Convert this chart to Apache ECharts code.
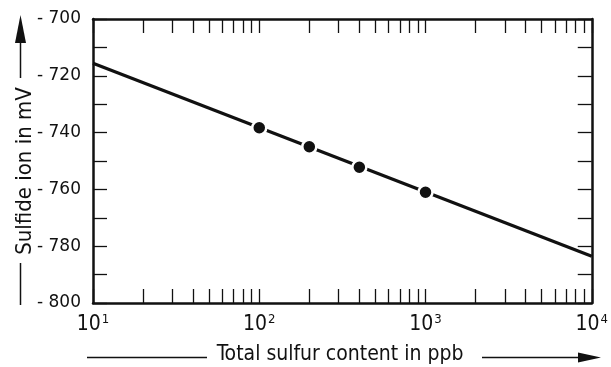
<!DOCTYPE html>
<html>
<head>
<meta charset="utf-8">
<script src="https://cdn.jsdelivr.net/npm/echarts@6/dist/echarts.min.js"></script>
<style>
  html, body { margin: 0; padding: 0; background: #fff; }
  #chart { width: 611px; height: 367px; }
</style>
</head>
<body>
<div id="chart"></div>
<script>
// Calibration line: sulfide ion potential vs. total sulfur content (log scale)
const lineX = [10, 10000];
const lineY = [-715.6, -783.5];

// Measured calibration points
const pointX = [100, 200, 400, 1000];
const pointY = [-738.3, -745.0, -752.2, -761.0];

// Axis ticks and labels
const xDecades = [10, 100, 1000, 10000];
const xExponents = ['1', '2', '3', '4'];
const yMin = -800, yMax = -700, yStep = 10, yLabelStep = 20;

// every k·10^n tick between the first and last decade
const xTicks = [];
for (let d = 0; d < xDecades.length - 1; d++) {
  for (let k = 1; k < 10; k++) xTicks.push(xDecades[d] * k);
}
xTicks.push(xDecades[xDecades.length - 1]);

const ink = '#111';
const narrow = '"Liberation Sans Narrow", "DejaVu Sans Condensed", sans-serif';
const plain = '"DejaVu Sans", sans-serif';

const chart = echarts.init(document.getElementById('chart'));

const tickStyle = { show: true, inside: true, length: 14, lineStyle: { color: ink, width: 1.3 } };
const lineStyleAxis = { show: true, lineStyle: { color: ink, width: 2.5 } };

chart.setOption({
  backgroundColor: '#fff',
  animation: false,
  grid: { left: 93, right: 12, top: 19, bottom: 64 },
  xAxis: [
    {
      type: 'log', logBase: 10, min: 10, max: 10000, position: 'bottom',
      axisLine: lineStyleAxis,
      axisTick: Object.assign({ customValues: xTicks }, tickStyle),
      splitLine: { show: false },
      axisLabel: {
        customValues: xDecades,
        margin: 10,
        formatter: function (v) {
          const i = xDecades.indexOf(v);
          return '{b|10}{s|' + (i >= 0 ? xExponents[i] : '') + '}';
        },
        rich: {
          b: { fontFamily: narrow, fontSize: 21, color: ink },
          s: { fontFamily: narrow, fontSize: 13, color: ink, verticalAlign: 'top', padding: [0, 0, 10, 1] }
        }
      }
    },
    {
      type: 'log', logBase: 10, min: 10, max: 10000, position: 'top',
      axisLine: lineStyleAxis,
      axisTick: Object.assign({ customValues: xTicks }, tickStyle),
      axisLabel: { show: false },
      splitLine: { show: false }
    }
  ],
  yAxis: [
    {
      type: 'value', min: yMin, max: yMax, interval: yStep, position: 'left',
      axisLine: lineStyleAxis,
      axisTick: tickStyle,
      splitLine: { show: false },
      axisLabel: {
        margin: 12,
        color: ink,
        rich: { n: { fontFamily: plain, fontSize: 17, color: ink } },
        formatter: function (v) {
          return (v % yLabelStep === 0) ? '{n|- ' + Math.abs(v) + '}' : '';
        }
      }
    },
    {
      type: 'value', min: yMin, max: yMax, interval: yStep, position: 'right',
      axisLine: lineStyleAxis,
      axisTick: tickStyle,
      axisLabel: { show: false },
      splitLine: { show: false }
    }
  ],
  series: [
    {
      type: 'line',
      data: lineX.map((x, i) => [x, lineY[i]]),
      showSymbol: false,
      lineStyle: { color: ink, width: 3.2 },
      z: 2
    },
    {
      type: 'scatter',
      data: pointX.map((x, i) => [x, pointY[i]]),
      symbol: 'circle',
      symbolSize: 14,
      itemStyle: { color: ink, opacity: 1, borderColor: '#fff', borderWidth: 2.5 },
      z: 3
    }
  ],
  graphic: [
    // vertical axis title with leader line and arrow
    { type: 'line', shape: { x1: 20.5, y1: 263, x2: 20.5, y2: 305 }, style: { stroke: ink, lineWidth: 1.5 } },
    { type: 'line', shape: { x1: 20.5, y1: 78, x2: 20.5, y2: 40 }, style: { stroke: ink, lineWidth: 1.5 } },
    { type: 'polygon', shape: { points: [[15, 43], [20.5, 15], [26, 43]] }, style: { fill: ink } },
    {
      type: 'text', x: 25, y: 171, rotation: Math.PI / 2,
      style: { text: 'Sulfide ion in mV', font: '22px ' + narrow, fill: ink, align: 'center', verticalAlign: 'middle' }
    },
    // horizontal axis title with leader line and arrow
    { type: 'line', shape: { x1: 87, y1: 357.5, x2: 207, y2: 357.5 }, style: { stroke: ink, lineWidth: 1.5 } },
    { type: 'line', shape: { x1: 482, y1: 357.5, x2: 582, y2: 357.5 }, style: { stroke: ink, lineWidth: 1.5 } },
    { type: 'polygon', shape: { points: [[578, 352.5], [601, 357.5], [578, 362.5]] }, style: { fill: ink } },
    {
      type: 'text', x: 340, y: 355,
      style: { text: 'Total sulfur content in ppb', font: '21px ' + narrow, fill: ink, align: 'center', verticalAlign: 'middle' }
    }
  ]
});
</script>
</body>
</html>
